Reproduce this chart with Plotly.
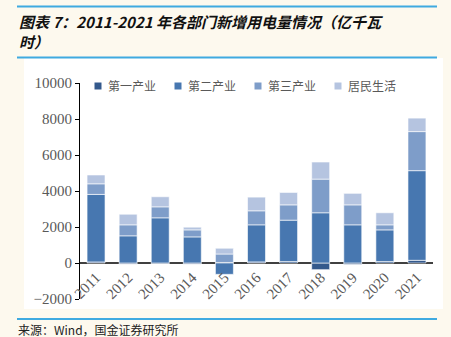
import plotly.graph_objects as go

years = ["2011", "2012", "2013", "2014", "2015", "2016", "2017", "2018", "2019", "2020", "2021"]
primary = [60, -60, -50, -60, 30, 60, 80, -370, -80, 80, 150]
secondary = [3750, 1510, 2510, 1450, -630, 2060, 2300, 2790, 2120, 1760, 4980]
tertiary = [590, 610, 610, 390, 470, 780, 850, 1870, 1110, 280, 2170]
residential = [490, 590, 560, 150, 320, 760, 690, 950, 640, 670, 750]
names = ["第一产业", "第二产业", "第三产业", "居民生活"]
colors = ["#34598C", "#4777B0", "#7E9DC9", "#B5C4E0"]

W, H = 451, 337
L, R, T, B = 80, 18, 83, 38
PW, PH = W - L - R, H - T - B

def px(x):
    return (x - L) / PW

def py(y):
    return (H - B - y) / PH

fig = go.Figure()
for name, vals, c in zip(names, [primary, secondary, tertiary, residential], colors):
    fig.add_trace(go.Bar(x=years, y=vals, name=name, marker_color=c,
                         marker_line=dict(color="rgba(255,255,255,0.6)", width=1)))

shapes = [
    dict(type="rect", xref="paper", yref="paper", x0=px(24), x1=px(443), y0=py(309), y1=py(58),
         fillcolor="#FFFFFF", line=dict(width=0), layer="below"),
    dict(type="line", xref="paper", yref="paper", x0=px(17), x1=px(437), y0=py(6.5), y1=py(6.5),
         line=dict(color="#3FAAE0", width=2)),
    dict(type="line", xref="paper", yref="paper", x0=px(17), x1=px(437), y0=py(57.5), y1=py(57.5),
         line=dict(color="#3FAAE0", width=2)),
    dict(type="line", xref="paper", yref="paper", x0=px(17), x1=px(437), y0=py(319), y1=py(319),
         line=dict(color="#3FAAE0", width=2)),
]
annotations = [
    dict(text="<b><i>图表 7：2011-2021 年各部门新增用电量情况（亿千瓦</i></b>", xref="paper", yref="paper",
         x=px(17), y=py(22), xanchor="left", yanchor="middle", showarrow=False,
         font=dict(family="Noto Sans CJK SC", size=15, color="#111111")),
    dict(text="<b><i>时）</i></b>", xref="paper", yref="paper",
         x=px(17), y=py(42), xanchor="left", yanchor="middle", showarrow=False,
         font=dict(family="Noto Sans CJK SC", size=15, color="#111111")),
    dict(text="来源：Wind，国金证券研究所", xref="paper", yref="paper",
         x=px(16), y=py(329), xanchor="left", yanchor="middle", showarrow=False,
         font=dict(family="Noto Sans CJK SC", size=12, color="#222222")),
]

# legend drawn as small squares + labels
for i, (name, c) in enumerate(zip(names, colors)):
    cx = 98 + 80 * i
    shapes.append(dict(type="rect", xref="paper", yref="paper", x0=px(cx - 3.5), x1=px(cx + 3.5),
                       y0=py(89.5), y1=py(82.5), fillcolor=c, line=dict(width=0)))
    annotations.append(dict(text=name, xref="paper", yref="paper", x=px(cx + 8), y=py(86),
                            xanchor="left", yanchor="middle", showarrow=False,
                            font=dict(family="Noto Sans CJK SC", size=12, color="#595959")))

fig.update_layout(
    width=W, height=H, margin=dict(l=L, r=R, t=T, b=B),
    paper_bgcolor="#FDF9EE", plot_bgcolor="rgba(0,0,0,0)",
    barmode="relative", bargap=0.44,
    showlegend=False,
    xaxis=dict(anchor="free", position=py(265), showline=False, ticks="", showgrid=False,
               tickangle=-45, tickfont=dict(family="Liberation Serif", size=15, color="#595959"),
               range=[-0.5, 10.5]),
    yaxis=dict(range=[-2000, 10000], dtick=2000, tickformat="d", showgrid=False, showline=True,
               linecolor="#000000", linewidth=1, ticks="outside", ticklen=4, tickcolor="#000000",
               zeroline=True, zerolinecolor="#404040", zerolinewidth=2, layer="above traces",
               tickfont=dict(family="Liberation Serif", size=15, color="#595959")),
    shapes=shapes,
    annotations=annotations,
)

fig.write_html("out.html")
